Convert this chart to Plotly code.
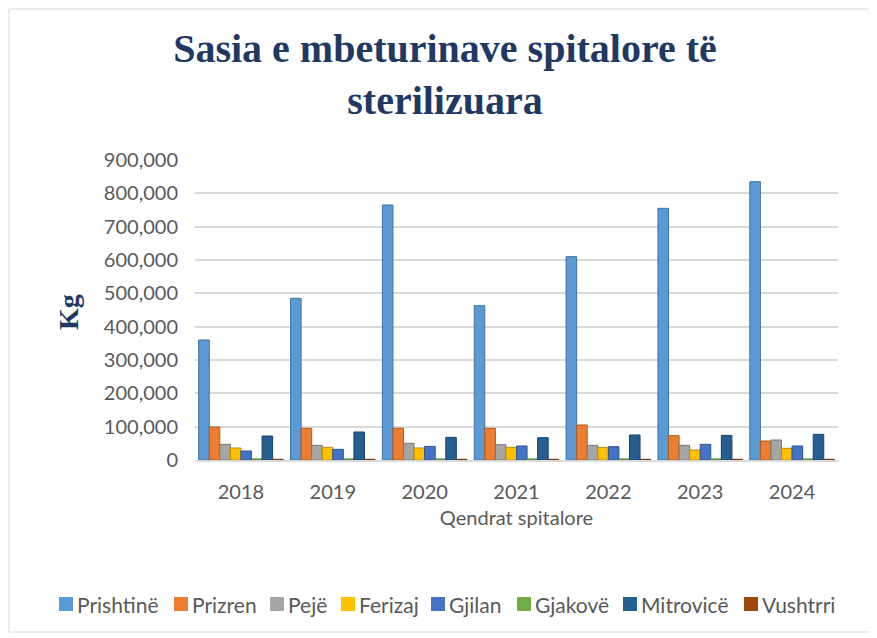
import plotly.graph_objects as go

years = ["2018", "2019", "2020", "2021", "2022", "2023", "2024"]
series_names = ["Prishtinë", "Prizren", "Pejë", "Ferizaj", "Gjilan", "Gjakovë", "Mitrovicë", "Vushtrri"]
prishtine = [360000, 485000, 765000, 463000, 610000, 755000, 835000]
prizren = [99000, 95000, 95000, 95000, 105000, 73000, 57000]
peje = [47000, 44000, 50000, 46000, 44000, 44000, 60000]
ferizaj = [36000, 38000, 36000, 38000, 38000, 30000, 35000]
gjilan = [27000, 32000, 41000, 42000, 40000, 47000, 42000]
gjakove = [3000, 3000, 3000, 3000, 3000, 3000, 3000]
mitrovice = [72000, 84000, 68000, 67000, 75000, 74000, 77000]
vushtrri = [2000, 2000, 2000, 2000, 2000, 2000, 2000]
values = [prishtine, prizren, peje, ferizaj, gjilan, gjakove, mitrovice, vushtrri]
colors = ["#5B9BD5", "#ED7D31", "#A5A5A5", "#FFC000", "#4472C4", "#70AD47", "#255E91", "#9E480E"]
edge = ["#41719C", "#AE5A21", "#787878", "#BC8C00", "#2F528F", "#507E32", "#1A4368", "#72340A"]
y_ticks = [0, 100000, 200000, 300000, 400000, 500000, 600000, 700000, 800000, 900000]

fig = go.Figure()
for name, vals, c, e in zip(series_names, values, colors, edge):
    fig.add_trace(go.Bar(x=years, y=vals, name=name, showlegend=False,
                         marker=dict(color=c, line=dict(color=e, width=1))))

# page body has an 8px margin; work in figure coordinates = reference - 8
OFF = 8
W, H = 877 - OFF, 638 - OFF
L, R, T, B = 195 - OFF, 838 - OFF, 160 - OFF, 460 - OFF
pw, ph = R - L, B - T

def px(x):
    return (x - OFF - L) / pw

def py(y):
    return (B - (y - OFF)) / ph

# manual legend (Excel-style compact legend), reference pixel positions
legend_x = [59, 174, 270, 341, 431, 517, 623, 744]
legend_y = 604
sq = 14
shapes = [dict(type="rect", xref="paper", yref="paper",
               x0=px(OFF + 1), x1=px(870), y0=py(632), y1=py(OFF + 1),
               line=dict(color="#D9D9D9", width=1), fillcolor="rgba(0,0,0,0)", layer="below")]
annotations = [dict(text="<b>Kg</b>", x=px(68), y=py(312), xref="paper", yref="paper",
                    xanchor="center", yanchor="middle",
                    textangle=-90, showarrow=False,
                    font=dict(family="Liberation Serif", size=28, color="#1F3864"))]
for name, c, lx in zip(series_names, colors, legend_x):
    shapes.append(dict(type="rect", xref="paper", yref="paper",
                       x0=px(lx), x1=px(lx + sq), y0=py(legend_y + sq / 2), y1=py(legend_y - sq / 2),
                       line=dict(width=0), fillcolor=c))
    annotations.append(dict(text=name, x=px(lx + sq + 2), y=py(legend_y), xref="paper", yref="paper",
                            xanchor="left", yanchor="middle", showarrow=False,
                            font=dict(family="Lato", size=21, color="#595959")))

fig.update_layout(
    width=W, height=H,
    margin=dict(l=L, r=W - R, t=T, b=H - B, pad=0, autoexpand=False),
    paper_bgcolor="white", plot_bgcolor="white",
    barmode="group", bargap=0.08, bargroupgap=0.0,
    title=dict(text="<b>Sasia e mbeturinave spitalore të<br>sterilizuara</b>",
               x=(445 - OFF) / W, xanchor="center", xref="container",
               y=1 - (62 - OFF) / H, yanchor="middle", yref="container",
               font=dict(family="Liberation Serif", size=40, color="#1F3864")),
    font=dict(family="Lato", color="#595959"),
    showlegend=False,
    xaxis=dict(type="category", showgrid=False, zeroline=False,
               showline=True, linecolor="#D9D9D9", linewidth=2,
               tickfont=dict(size=20, color="#595959"), ticks="", ticklabelstandoff=13,
               title=dict(text="Qendrat spitalore", font=dict(size=20, color="#595959"), standoff=9)),
    yaxis=dict(range=[0, 900000], tickvals=y_ticks, tickformat=",",
               showgrid=True, gridcolor="#D9D9D9", gridwidth=2,
               zeroline=False, showline=False, ticks="", ticklabelstandoff=16,
               tickfont=dict(size=20, color="#595959")),
    shapes=shapes,
    annotations=annotations,
)

fig.write_html("out.html")
